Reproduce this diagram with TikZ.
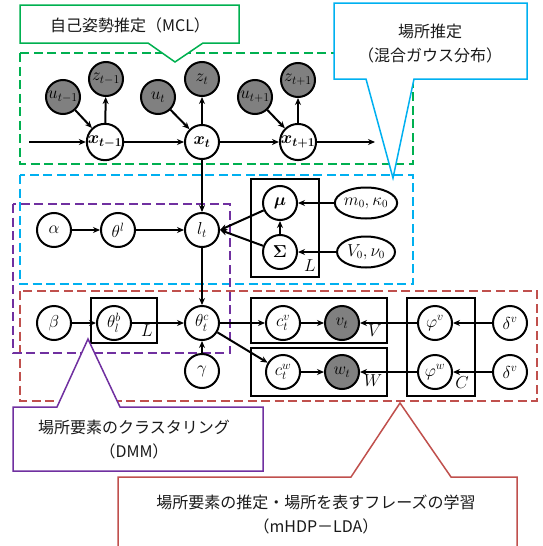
\documentclass[tikz,border=0pt]{standalone}
\usepackage{fontspec}
\usepackage{amsmath,bm}
\usetikzlibrary{arrows.meta,shapes.geometric}
\newfontfamily\jp{Noto Sans CJK JP}
\definecolor{cgreen}{RGB}{0,176,80}
\definecolor{cblue}{RGB}{0,176,240}
\definecolor{cpurple}{RGB}{112,48,160}
\definecolor{cred}{RGB}{192,80,77}
\definecolor{cgray}{RGB}{128,128,128}
\begin{document}
\begin{tikzpicture}[x=1pt,y=-1pt,
  var/.style={circle, draw, line width=2pt, minimum size=34pt, inner sep=0pt, fill=white, font=\fontsize{17}{17}\selectfont},
  obs/.style={var, fill=cgray},
  hyp/.style={ellipse, draw, line width=2pt, minimum width=58pt, minimum height=31pt, inner sep=0pt, fill=white, font=\fontsize{16}{16}\selectfont},
  arr/.style={-{Stealth[length=7pt,width=6pt]}, line width=2pt},
  plate/.style={draw, line width=2.2pt},
  platelabel/.style={font=\fontsize{18}{18}\selectfont, inner sep=0pt},
  dbox/.style={line width=2.2pt, dash pattern=on 9pt off 4.5pt},
  callout/.style={fill=white, line width=1.5pt},
  jtext/.style={font=\jp\fontsize{16}{24}\selectfont, align=center, text=black!90}
]
\useasboundingbox (0,0) rectangle (543,546);

% dashed region boxes
\draw[dbox, cgreen] (20,53) rectangle (413,164);
\draw[dbox, cblue] (20,175) rectangle (413,284);
\draw[dbox, cred] (20,291) rectangle (537,401);
\draw[dbox, cpurple] (13,204) rectangle (230,353);

% plates
\draw[plate] (251,179) rectangle (319,277);
\draw[plate] (91,298) rectangle (157,343);
\draw[plate] (251,298) rectangle (387,343);
\draw[plate] (251,348) rectangle (387,396);
\draw[plate] (407,298) rectangle (475,396);
\node[platelabel] (pL1) at (310,266) {$L$};
\node[platelabel] (pL2) at (147,331) {$L$};
\node[platelabel] (pV) at (375,331) {$V$};
\node[platelabel] (pW) at (373,381) {$W$};
\node[platelabel] (pC) at (462,383) {$C$};

% MCL row
\node[obs] (u1) at (63,97) {$u_{t-1}$};
\node[obs] (z1) at (106,79) {$z_{t-1}$};
\node[var] (x1) at (105,142) {$\bm{x_{t-1}}$};
\node[obs] (u2) at (158,97) {$u_t$};
\node[obs] (z2) at (202,79) {$z_t$};
\node[var] (x2) at (202,142) {$\bm{x_t}$};
\node[obs] (u3) at (255,97) {$u_{t+1}$};
\node[obs] (z3) at (298,80) {$z_{t+1}$};
\node[var] (x3) at (298,142) {$\bm{x_{t+1}}$};
\coordinate (xin) at (29,142);
\coordinate (xout) at (375,142);

% place row
\node[var] (alpha) at (54,230) {$\alpha$};
\node[var] (thl) at (118,230) {$\theta^{l}$};
\node[var] (lt) at (202,230) {$l_t$};
\node[var] (mu) at (280,203) {$\bm{\mu}$};
\node[var] (Sig) at (280,252) {$\bm{\Sigma}$};
\node[hyp] (m0) at (366,203) {$m_0,\kappa_0$};
\node[hyp] (V0) at (366,252) {$V_0,\nu_0$};

% word row
\node[var] (beta) at (54,323) {$\beta$};
\node[var] (thb) at (114,323) {$\theta_l^{b}$};
\node[var] (thc) at (202,323) {$\theta_t^{c}$};
\node[var] (gam) at (202,371) {$\gamma$};
\node[var] (cv) at (283,323) {$c_t^{v}$};
\node[obs] (vt) at (342,323) {$v_t$};
\node[var] (cw) at (283,372) {$c_t^{w}$};
\node[obs] (wt) at (342,372) {$w_t$};
\node[var] (phv) at (435,323) {$\varphi^{v}$};
\node[var] (phw) at (435,372) {$\varphi^{w}$};
\node[var] (dv1) at (510,323) {$\delta^{v}$};
\node[var] (dv2) at (510,372) {$\delta^{v}$};

% arrows
\draw[arr] (u1) -- (x1);
\draw[arr] (x1) -- (z1);
\draw[arr] (u2) -- (x2);
\draw[arr] (x2) -- (z2);
\draw[arr] (u3) -- (x3);
\draw[arr] (x3) -- (z3);
\draw[arr] (xin) -- (x1);
\draw[arr] (x1) -- (x2);
\draw[arr] (x2) -- (x3);
\draw[arr] (x3) -- (xout);
\draw[arr] (x2) -- (lt);
\draw[arr] (alpha) -- (thl);
\draw[arr] (thl) -- (lt);
\draw[arr] (mu) -- (lt.east);
\draw[arr] (Sig) -- (lt.east);
\draw[arr] (Sig) -- (mu);
\draw[arr] (m0) -- (mu);
\draw[arr] (V0) -- (Sig);
\draw[arr] (lt) -- (thc);
\draw[arr] (beta) -- (thb);
\draw[arr] (thb) -- (thc);
\draw[arr] (gam) -- (thc);
\draw[arr] (thc) -- (cv);
\draw[arr] (thc) -- (cw);
\draw[arr] (cv) -- (vt);
\draw[arr] (cw) -- (wt);
\draw[arr] (phv) -- (vt);
\draw[arr] (phw) -- (wt);
\draw[arr] (dv1) -- (phv);
\draw[arr] (dv2) -- (phw);

% callouts
\draw[callout, draw=cgreen] (20,5) -- (239,5) -- (239,43) -- (203,43) -- (175,62) -- (148,43) -- (20,43) -- cycle;
\node[jtext] (tg) at (130,25) {自己姿勢推定（MCL）};
\draw[callout, draw=cblue] (334,3) -- (527,3) -- (527,79) -- (414,79) -- (393,178) -- (366,79) -- (334,79) -- cycle;
\node[jtext] (tb) at (430,44) {場所推定\\（混合ガウス分布）};
\draw[callout, draw=cpurple] (13,407) -- (57,407) -- (88,339) -- (120,407) -- (263,407) -- (263,471) -- (13,471) -- cycle;
\node[jtext] (tp) at (134,440) {場所要素のクラスタリング\\（DMM）};
\draw[callout, draw=cred] (118,477) -- (351,477) -- (400,403) -- (451,477) -- (517,477) -- (517,560) -- (118,560) -- cycle;
\node[jtext] (tr) at (316,514) {場所要素の推定・場所を表すフレーズの学習\\（mHDP－LDA）};
\end{tikzpicture}
\end{document}
